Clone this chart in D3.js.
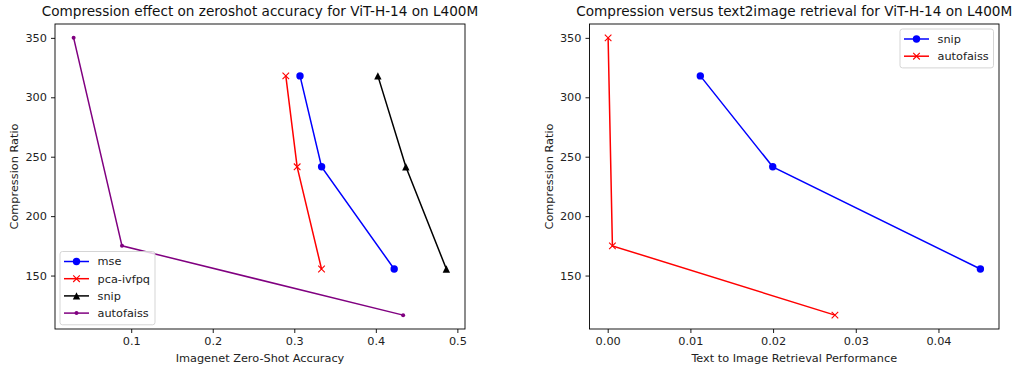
<!DOCTYPE html>
<html>
<head>
<meta charset="utf-8">
<script src="https://cdn.jsdelivr.net/npm/d3@7"></script>
<style>
  body { margin: 0; background: #fff; }
  svg { display: block; font-family: "DejaVu Sans", sans-serif; }
</style>
</head>
<body>
<div id="chart"></div>
<script>
// left panel: imagenet zero-shot accuracy vs compression ratio
const mseX = [0.307, 0.3335, 0.4225];
const mseY = [318, 241.5, 155.5];
const pcaX = [0.2896, 0.3035, 0.3334];
const pcaY = [318, 241.5, 155.5];
const snipX = [0.4025, 0.4368, 0.4865];
const snipY = [318, 241.5, 155.5];
const faissX = [0.0294, 0.0887, 0.4335];
const faissY = [350, 175, 116.7];

// right panel: text to image retrieval vs compression ratio
const retSnipX = [0.0112, 0.01996, 0.04507];
const retSnipY = [318, 241.5, 155.5];
const retFaissX = [0.00005, 0.00057, 0.02748];
const retFaissY = [350, 175, 116.7];

const leftTicksX = [0.1, 0.2, 0.3, 0.4, 0.5];
const rightTicksX = [0, 0.01, 0.02, 0.03, 0.04];
const ticksY = [150, 200, 250, 300, 350];

const W = 1015, H = 366;
const FS = 11.3, TITLE_FS = 13.6;
const svg = d3.select("#chart").append("svg")
  .attr("width", W).attr("height", H);

const zip = (xs, ys) => xs.map((x, i) => ({ x, y: ys[i] }));

function padDomain(vals) {
  const lo = d3.min(vals), hi = d3.max(vals);
  const m = (hi - lo) * 0.05;
  return [lo - m, hi + m];
}

function marker(g, type, color, cx, cy) {
  if (type === "o") {
    g.append("circle").attr("cx", cx).attr("cy", cy).attr("r", 3.7).attr("fill", color);
  } else if (type === ".") {
    g.append("circle").attr("cx", cx).attr("cy", cy).attr("r", 2).attr("fill", color);
  } else if (type === "x") {
    const s = 3.3;
    g.append("path")
      .attr("d", `M${cx - s},${cy - s}L${cx + s},${cy + s}M${cx - s},${cy + s}L${cx + s},${cy - s}`)
      .attr("stroke", color).attr("stroke-width", 1.1).attr("fill", "none");
  } else if (type === "^") {
    const s = 3.7;
    g.append("path")
      .attr("d", `M${cx},${cy - s}L${cx + s},${cy + s}L${cx - s},${cy + s}Z`)
      .attr("fill", color);
  }
}

function panel(opts) {
  const { left, right, top, bottom, series, xTicks, xFmt, title, xLabel, legend } = opts;
  const allX = series.flatMap(s => s.data.map(d => d.x));
  const allY = series.flatMap(s => s.data.map(d => d.y));

  const x = d3.scaleLinear().domain(padDomain(allX)).range([left, right]);
  const y = d3.scaleLinear().domain(padDomain(allY)).range([bottom, top]);

  const g = svg.append("g");

  const line = d3.line().x(d => x(d.x)).y(d => y(d.y));
  series.forEach(s => {
    g.append("path").attr("d", line(s.data))
      .attr("fill", "none").attr("stroke", s.color).attr("stroke-width", 1.5);
    s.data.forEach(d => marker(g, s.marker, s.color, x(d.x), y(d.y)));
  });

  // frame
  g.append("rect")
    .attr("x", left).attr("y", top)
    .attr("width", right - left).attr("height", bottom - top)
    .attr("fill", "none").attr("stroke", "#000").attr("stroke-width", 0.9);

  const xAxis = g.append("g")
    .attr("transform", `translate(0,${bottom})`)
    .call(d3.axisBottom(x).tickValues(xTicks).tickFormat(xFmt).tickSizeOuter(0).tickSize(4).tickPadding(4));
  const yAxis = g.append("g")
    .attr("transform", `translate(${left},0)`)
    .call(d3.axisLeft(y).tickValues(ticksY).tickSizeOuter(0).tickSize(4).tickPadding(4));
  [xAxis, yAxis].forEach(a => {
    a.select(".domain").remove();
    a.selectAll("line").attr("stroke", "#000").attr("stroke-width", 0.9);
    a.selectAll("text").attr("fill", "#222").style("font-size", FS + "px")
      .style("font-family", "DejaVu Sans, sans-serif");
  });

  g.append("text")
    .attr("x", (left + right) / 2).attr("y", top - 8.5)
    .attr("text-anchor", "middle").style("font-size", TITLE_FS + "px").attr("fill", "#111")
    .text(title);

  g.append("text")
    .attr("x", (left + right) / 2).attr("y", bottom + 33)
    .attr("text-anchor", "middle").style("font-size", FS + "px").attr("fill", "#222")
    .text(xLabel);

  g.append("text")
    .attr("transform", `translate(${left - 37},${(top + bottom) / 2}) rotate(-90)`)
    .attr("text-anchor", "middle").style("font-size", FS + "px").attr("fill", "#222")
    .text("Compression Ratio");

  // legend
  const lg = g.append("g").attr("transform", `translate(${legend.x},${legend.y})`);
  const rowH = 17.2;
  lg.append("rect")
    .attr("x", 0).attr("y", 0)
    .attr("width", legend.w).attr("height", series.length * rowH + 4.5)
    .attr("rx", 2.5)
    .attr("fill", "rgba(255,255,255,0.8)").attr("stroke", "#d0d0d0").attr("stroke-width", 0.9);
  series.forEach((s, i) => {
    const cy = 10 + i * rowH;
    lg.append("line").attr("x1", 4).attr("x2", 29).attr("y1", cy).attr("y2", cy)
      .attr("stroke", s.color).attr("stroke-width", 1.5);
    marker(lg, s.marker, s.color, 16.5, cy);
    lg.append("text").attr("x", 37.5).attr("y", cy).attr("dy", "0.35em")
      .style("font-size", FS + "px").attr("fill", "#222").text(s.name);
  });
}

panel({
  left: 55, right: 465, top: 24, bottom: 329,
  series: [
    { name: "mse", color: "blue", marker: "o", data: zip(mseX, mseY) },
    { name: "pca-ivfpq", color: "red", marker: "x", data: zip(pcaX, pcaY) },
    { name: "snip", color: "black", marker: "^", data: zip(snipX, snipY) },
    { name: "autofaiss", color: "purple", marker: ".", data: zip(faissX, faissY) }
  ],
  xTicks: leftTicksX,
  xFmt: d3.format(".1f"),
  title: "Compression effect on zeroshot accuracy for ViT-H-14 on L400M",
  xLabel: "Imagenet Zero-Shot Accuracy",
  legend: { x: 60, y: 251.5, w: 95 }
});

panel({
  left: 589.5, right: 999, top: 24, bottom: 329,
  series: [
    { name: "snip", color: "blue", marker: "o", data: zip(retSnipX, retSnipY) },
    { name: "autofaiss", color: "red", marker: "x", data: zip(retFaissX, retFaissY) }
  ],
  xTicks: rightTicksX,
  xFmt: d3.format(".2f"),
  title: "Compression versus text2image retrieval for ViT-H-14 on L400M",
  xLabel: "Text to Image Retrieval Performance",
  legend: { x: 900, y: 29, w: 93.5 }
});
</script>
</body>
</html>
